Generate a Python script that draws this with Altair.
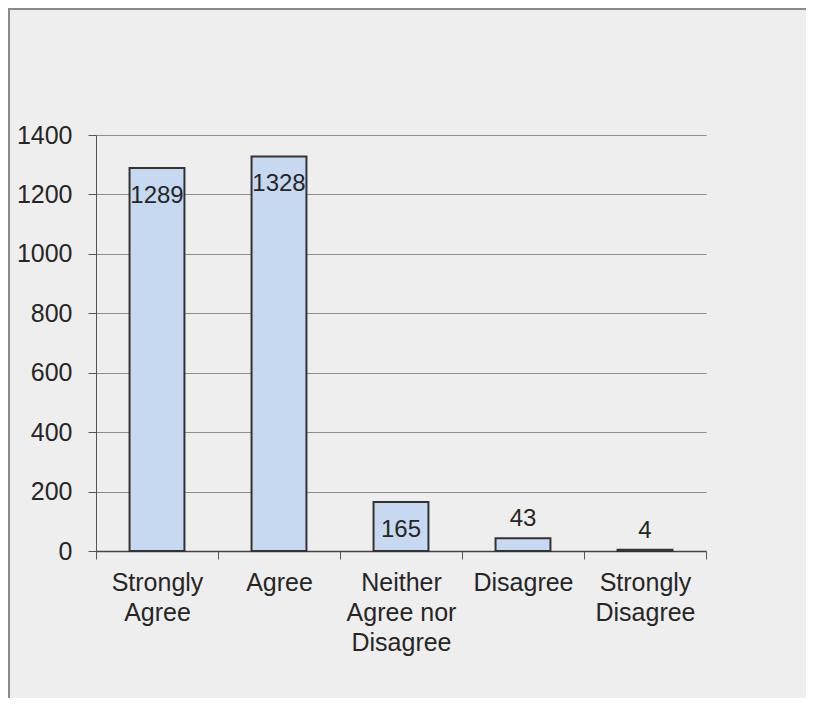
import json
import altair as alt
import pandas as pd

categories = ["Strongly Agree", "Agree", "Neither Agree nor Disagree", "Disagree", "Strongly Disagree"]
counts = [1289, 1328, 165, 43, 4]
label_lines = [["Strongly", "Agree"], ["Agree"], ["Neither", "Agree nor", "Disagree"], ["Disagree"], ["Strongly", "Disagree"]]
y_ticks = [0, 200, 400, 600, 800, 1000, 1200, 1400]

df = pd.DataFrame({"category": categories, "count": counts})

expr = "''"
for cat, lines in reversed(list(zip(categories, label_lines))):
    expr = f"datum.value == {json.dumps(cat)} ? {json.dumps(lines)} : ({expr})"

FONT = "Liberation Sans"
TXT = "#262626"
FS = 25

x_enc = alt.X(
    "category:N",
    sort=categories,
    scale=alt.Scale(paddingInner=0, paddingOuter=0),
    axis=alt.Axis(
        title=None, labelExpr=expr, labelAngle=0, labelFont=FONT, labelFontSize=FS,
        labelColor=TXT, labelLineHeight=30, labelPadding=11, tickBand="extent",
        tickSize=8, tickColor="#555555", domainColor="#444444", domainWidth=1.5,
        grid=False, labelBaseline="top",
    ),
)
y_enc = alt.Y(
    "count:Q",
    scale=alt.Scale(domain=[0, 1400], nice=False),
    axis=alt.Axis(
        title=None, values=y_ticks, format="d", labelFont=FONT, labelFontSize=FS,
        labelColor=TXT, labelPadding=16, tickSize=8, tickColor="#555555",
        domainColor="#555555", gridColor="#8c8c8c", gridWidth=1.2, gridOpacity=1,
    ),
)

bars = alt.Chart(df).mark_bar(
    width=alt.RelativeBandSize(0.45), color="#c6d9f0", stroke="#333333", strokeWidth=2
).encode(x=x_enc, y=y_enc)

inside = alt.Chart(df).transform_filter("datum.count >= 100").mark_text(
    font=FONT, fontSize=24, color=TXT, baseline="middle", dy=28
).encode(x=alt.X("category:N", sort=categories), y="count:Q", text=alt.Text("count:Q", format="d"))

outside = alt.Chart(df).transform_filter("datum.count < 100").mark_text(
    font=FONT, fontSize=24, color=TXT, baseline="middle", dy=-19
).encode(x=alt.X("category:N", sort=categories), y="count:Q", text=alt.Text("count:Q", format="d"))

one = pd.DataFrame({"a": [0]})
left_border = alt.Chart(one).mark_rule(color="#8a8a8a", strokeWidth=2).encode(
    x=alt.value(-87), y=alt.value(-127), y2=alt.value(563)
)
top_border = alt.Chart(one).mark_rule(color="#8a8a8a", strokeWidth=2).encode(
    x=alt.value(-88), x2=alt.value(710), y=alt.value(-126)
)

chart = alt.layer(bars, inside, outside, left_border, top_border).properties(
    width=610, height=416,
    autosize=alt.AutoSizeParams(type="none"),
    padding={"left": 88, "top": 127, "right": 100, "bottom": 147},
    background="#eeeeee",
).configure_view(stroke=None)

chart.save("out.html", embed_options={"renderer": "svg", "actions": False})
